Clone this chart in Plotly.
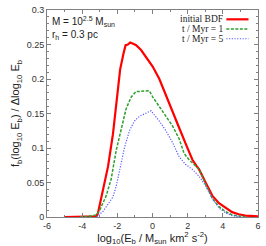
import plotly.graph_objects as go

# Data
x_initial = [-5.0, -4.0, -3.3, -3.19, -3.1, -2.91, -2.7, -2.53, -2.25, -2.06, -1.84, -1.65, -1.53, -1.4, -1.27,
             -1.1, -0.93, -0.65, -0.37, 0.01, 0.39, 0.76, 1.14, 1.52, 1.89, 2.27, 2.5, 2.65, 3.02, 3.4, 3.78,
             4.15, 4.53, 4.9, 5.28, 5.6, 6.0]
y_initial = [0.0, 0.0, 0.0, 0.001, 0.006, 0.027, 0.052, 0.073, 0.12, 0.167, 0.214, 0.237, 0.249, 0.250, 0.253,
             0.251, 0.249, 0.242, 0.232, 0.218, 0.200, 0.176, 0.153, 0.129, 0.106, 0.083, 0.074, 0.069, 0.050,
             0.031, 0.020, 0.013, 0.007, 0.004, 0.002, 0.0015, 0.001]

x_t1 = [-4.13, -3.6, -3.19, -3.0, -2.63, -2.35, -2.06, -1.78, -1.5, -1.21, -0.93, -0.75, -0.56, -0.35, -0.18,
        0.01, 0.2, 0.48, 0.76, 1.14, 1.52, 1.8, 2.08, 2.36, 2.65, 3.02, 3.4, 3.78, 4.15, 4.53, 4.9, 5.28]
y_t1 = [0.0, 0.001, 0.003, 0.010, 0.031, 0.055, 0.097, 0.129, 0.157, 0.174, 0.182, 0.182, 0.182, 0.182, 0.183,
        0.174, 0.167, 0.157, 0.146, 0.132, 0.113, 0.092, 0.083, 0.076, 0.069, 0.048, 0.027, 0.015, 0.008,
        0.003, 0.001, 0.0]

x_t5 = [-3.19, -2.82, -2.44, -2.25, -2.06, -1.87, -1.59, -1.31, -1.03, -0.74, -0.37, -0.08, 0.1, 0.39, 0.76,
        1.14, 1.52, 1.89, 2.27, 2.65, 3.02, 3.4, 3.78, 4.15, 4.53, 5.1]
y_t5 = [0.0, 0.008, 0.022, 0.029, 0.045, 0.069, 0.101, 0.125, 0.139, 0.146, 0.150, 0.154, 0.148, 0.139, 0.125,
        0.108, 0.087, 0.076, 0.069, 0.059, 0.045, 0.027, 0.013, 0.006, 0.002, 0.0]

x_ticks = [-6, -4, -2, 0, 2, 4, 6]
y_ticks = [0, 0.05, 0.1, 0.15, 0.2, 0.25, 0.3]
y_tick_labels = ["0", "0.05", "0.1", "0.15", "0.2", "0.25", "0.3"]

series_names = ["initial BDF", "t / Myr = 1", "t / Myr = 5"]
series_colors = ["#ff0000", "#2ca02c", "#5a5aff"]
series_dash = ["solid", "3px,1.5px", "1.2px,1.5px"]
series_width = [2.2, 1.5, 1.2]

fig = go.Figure()
for xs, ys, name, c, d, w in zip([x_initial, x_t1, x_t5], [y_initial, y_t1, y_t5],
                                 series_names, series_colors, series_dash, series_width):
    fig.add_trace(go.Scatter(x=xs, y=ys, mode="lines", name=name,
                             line=dict(color=c, dash=d, width=w), showlegend=False))

axis_common = dict(showgrid=False, zeroline=False, showline=True, linecolor="#808080", linewidth=1,
                   mirror="ticks", ticks="inside", ticklen=4, tickcolor="#808080",
                   tickfont=dict(family="Liberation Sans, Arial", size=9, color="#333333"))

fig.update_xaxes(range=[-6, 6], tickvals=x_ticks, ticktext=[str(v) for v in x_ticks],
                 minor=dict(dtick=1, ticks="inside", ticklen=2, tickcolor="#808080"),
                 title=dict(text="log<sub>10</sub>(E<sub>b</sub> / M<sub>sun</sub> km<sup>2</sup> s<sup>-2</sup>)",
                            font=dict(family="Liberation Sans, Arial", size=11, color="#222222"), standoff=3),
                 **axis_common)
fig.update_yaxes(range=[0, 0.3], tickvals=y_ticks, ticktext=y_tick_labels,
                 minor=dict(dtick=0.01, ticks="inside", ticklen=2, tickcolor="#808080"),
                 title=dict(text="f<sub>b</sub>(log<sub>10</sub> E<sub>b</sub>) / Δlog<sub>10</sub> E<sub>b</sub>",
                            font=dict(family="Liberation Sans, Arial", size=11, color="#222222"), standoff=4),
                 **axis_common)

# Text annotation in the top-left
fig.add_annotation(x=0.015, y=0.985, xref="paper", yref="paper", xanchor="left", yanchor="top",
                   text="M = 10<sup>2.5</sup> M<sub>sun</sub><br>r<sub>h</sub> = 0.3 pc",
                   showarrow=False, align="left",
                   font=dict(family="Liberation Sans, Arial", size=10, color="#222222"))

# Legend drawn with text to the left and line sample to the right
legend_y = [0.955, 0.908, 0.861]
for name, c, d, w, ly in zip(series_names, series_colors, series_dash, series_width, legend_y):
    fig.add_annotation(x=0.84, y=ly, xref="paper", yref="paper", xanchor="right", yanchor="middle",
                       text=name, showarrow=False, borderpad=0,
                       font=dict(family="Liberation Serif, Times New Roman", size=9.5, color="#222222"))
    fig.add_shape(type="line", xref="paper", yref="paper", x0=0.85, x1=0.955, y0=ly, y1=ly,
                  line=dict(color=c, dash=d, width=w))

fig.update_layout(width=266, height=246, margin=dict(l=47, r=7, t=5, b=27),
                  paper_bgcolor="white", plot_bgcolor="white")

fig.write_html("out.html", config={"displayModeBar": False, "staticPlot": True},
               post_script="document.body.style.margin='0';document.body.style.overflow='hidden';")
